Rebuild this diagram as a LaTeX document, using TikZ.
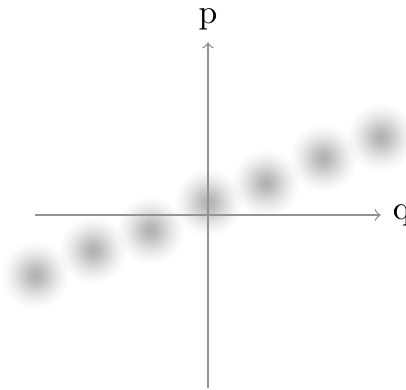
\documentclass[tikz,border=0pt]{standalone}
\pgfdeclareradialshading{flou}{\pgfpoint{0bp}{0bp}}{%
  color(0bp)=(black!31); color(5bp)=(black!26); color(10bp)=(black!18);
  color(15bp)=(black!10); color(20bp)=(black!4); color(25bp)=(white); color(50bp)=(white)}
\tikzset{
  axe/.style={->, gray!85},
  etat/.style={shading=flou}
}
\begin{document}
\begin{tikzpicture}
            % Cadre
            \useasboundingbox (-2.167,-1.8125) rectangle (2.062,2.24);

            % Coordonnées des axes
            \coordinate (O) at (0,0);
            \coordinate (Qg) at (-1.8,0);
            \coordinate (Qd) at (1.8,0);
            \coordinate (Pb) at (0,-1.8);
            \coordinate (Ph) at (0,1.8);

            % États cohérents (taches floues) le long de la trajectoire
            \begin{scope}[blend mode=multiply]
            \foreach \x/\y in {-1.8/-0.625, -1.2/-0.365, -0.6/-0.156, 0/0.135, 0.6/0.333, 1.2/0.594, 1.8/0.8125}
                \shade[etat] (\x,\y) circle (0.36);
            \end{scope}

            % Axes de l'espace des phases
            \draw[axe] (Qg) -- (Qd) node[right, black] (q) {q};
            \draw[axe] (Pb) -- (Ph) node[above, black] (p) {p};

        \end{tikzpicture}
\end{document}
